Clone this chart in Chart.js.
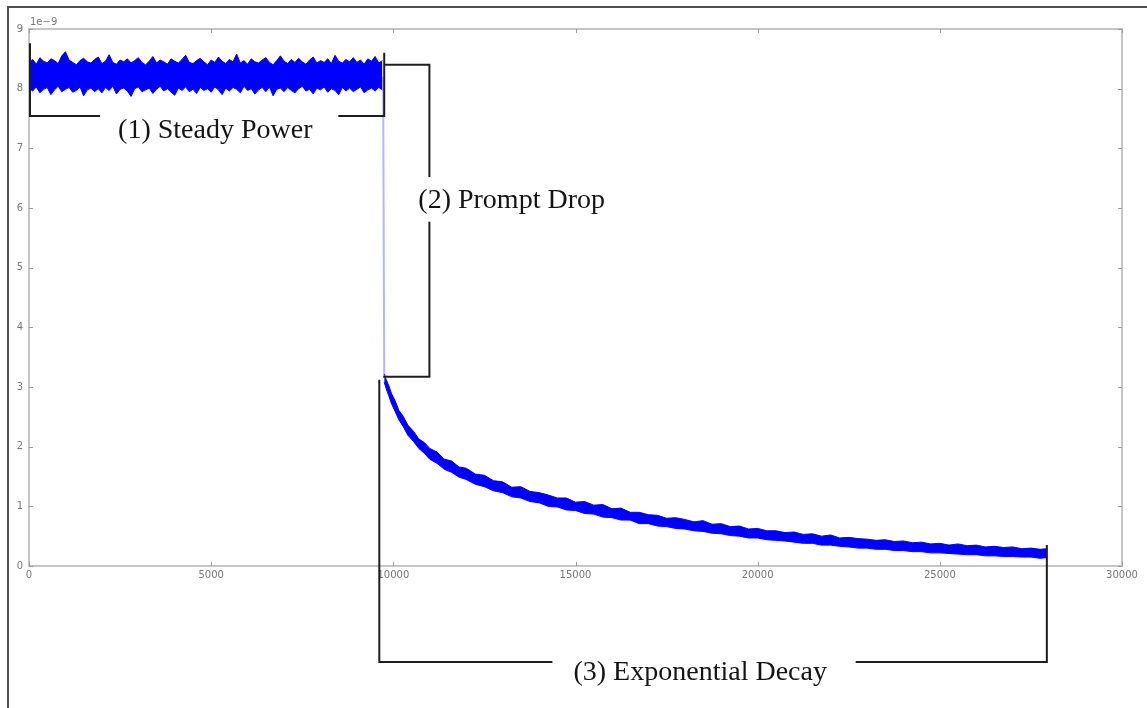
<!DOCTYPE html>
<html><head><meta charset="utf-8">
<script src="https://cdn.jsdelivr.net/npm/chart.js@4.4.0/dist/chart.umd.min.js"></script>
<style>html,body{margin:0;padding:0;background:#fff;overflow:hidden}#wrap{width:1147px;height:708px}</style>
</head><body><div id="wrap"><canvas id="c" width="1147" height="708"></canvas></div>
<script>
// ---- data (values in units of 1e-9) ----
const xTicks = [0, 5000, 10000, 15000, 20000, 25000, 30000];
const yTicks = [0, 1, 2, 3, 4, 5, 6, 7, 8, 9];
const offsetText = '1e\u22129';

const steadyX = [0,100,200,300,400,500,600,700,800,900,1000,1100,1200,1300,1400,1500,1600,1700,1800,1900,2000,2100,2200,2300,2400,2500,2600,2700,2800,2900,3000,3100,3200,3300,3400,3500,3600,3700,3800,3900,4000,4100,4200,4300,4400,4500,4600,4700,4800,4900,5000,5100,5200,5300,5400,5500,5600,5700,5800,5900,6000,6100,6200,6300,6400,6500,6600,6700,6800,6900,7000,7100,7200,7300,7400,7500,7600,7700,7800,7900,8000,8100,8200,8300,8400,8500,8600,8700,8800,8900,9000,9100,9200,9300,9400,9500,9600,9700];
const steadyUpper = [8.44,8.49,8.41,8.52,8.46,8.43,8.50,8.47,8.42,8.55,
  8.62,8.48,8.44,8.40,8.47,8.51,8.45,8.43,8.49,8.53,
  8.42,8.46,8.57,8.44,8.41,8.48,8.45,8.50,8.43,8.47,
  8.52,8.44,8.40,8.46,8.54,8.43,8.48,8.45,8.41,8.50,
  8.46,8.43,8.49,8.56,8.44,8.42,8.47,8.51,8.45,8.40,
  8.48,8.44,8.53,8.46,8.42,8.49,8.45,8.58,8.43,8.47,
  8.41,8.50,8.45,8.43,8.48,8.52,8.44,8.40,8.47,8.55,
  8.46,8.42,8.49,8.44,8.51,8.45,8.41,8.48,8.53,8.43,
  8.47,8.44,8.50,8.42,8.56,8.46,8.43,8.49,8.45,8.52,
  8.44,8.48,8.41,8.50,8.46,8.54,8.43,8.47];
const steadyLower = [8.01,7.96,8.03,7.93,7.99,8.02,7.90,7.98,8.04,7.95,
  7.99,8.02,7.94,7.97,8.03,7.88,7.98,8.01,7.95,8.00,
  7.93,8.02,7.97,8.04,7.91,7.99,8.01,7.96,7.87,8.00,
  8.03,7.95,7.98,8.01,7.92,7.99,8.04,7.96,8.00,7.94,
  7.89,8.01,7.97,8.03,7.95,7.99,7.92,8.02,7.97,8.00,
  7.94,8.03,7.98,7.90,8.01,7.96,8.02,7.99,7.93,8.04,
  7.97,8.00,7.91,7.98,8.02,7.95,8.03,7.88,7.99,8.01,
  7.95,8.02,7.97,7.93,8.00,8.04,7.96,7.99,7.91,8.01,
  7.98,8.03,7.94,8.00,7.97,7.90,8.02,7.96,8.01,7.95,
  7.99,8.03,7.93,7.98,8.01,7.96,8.02,7.98];

const dropX = [9720, 9750];
const dropY = [8.2, 3.15];

const decayX = [9750,9800,9870,9950,10050,10150,10270,10400,10550,10700,10850,11000,11200,11400,11600,11800,12000,12250,12500,12750,13000,13250,13500,13750,14000,14250,14500,14750,15000,15250,15500,15750,16000,16250,16500,16750,17000,17250,17500,17750,18000,18250,18500,18750,19000,19250,19500,19750,20000,20250,20500,20750,21000,21250,21500,21750,22000,22250,22500,22750,23000,23250,23500,23750,24000,24250,24500,24750,25000,25250,25500,25750,26000,26250,26500,26750,27000,27250,27500,27750,27950];
const decayUpper = [3.22,3.13,3.03,2.89,2.77,2.61,2.51,2.36,2.26,2.13,
  2.07,1.97,1.91,1.79,1.76,1.66,1.64,1.54,1.52,1.43,
  1.41,1.32,1.33,1.25,1.23,1.19,1.14,1.14,1.07,1.08,
  1.02,1.03,0.96,0.97,0.90,0.90,0.86,0.85,0.80,0.81,
  0.78,0.74,0.76,0.70,0.71,0.66,0.67,0.62,0.63,0.59,
  0.59,0.56,0.57,0.53,0.54,0.50,0.52,0.47,0.48,0.46,
  0.45,0.43,0.44,0.41,0.42,0.39,0.40,0.37,0.38,0.35,
  0.37,0.34,0.35,0.32,0.33,0.31,0.32,0.29,0.30,0.28,0.29];
const decayLower = [3.08,2.98,2.86,2.72,2.59,2.45,2.34,2.19,2.09,1.97,
  1.89,1.79,1.72,1.62,1.57,1.49,1.45,1.37,1.33,1.26,
  1.23,1.16,1.14,1.08,1.06,1.00,0.99,0.94,0.93,0.88,
  0.87,0.82,0.81,0.77,0.77,0.71,0.71,0.67,0.66,0.63,
  0.62,0.59,0.58,0.55,0.54,0.51,0.50,0.47,0.47,0.44,
  0.43,0.42,0.40,0.38,0.38,0.35,0.35,0.33,0.32,0.30,
  0.30,0.28,0.28,0.26,0.26,0.24,0.24,0.22,0.22,0.21,
  0.20,0.19,0.19,0.17,0.17,0.16,0.16,0.15,0.15,0.13,0.14];

// ---- annotations (data coordinates) ----
const phaseLabels = ['(1) Steady Power', '(2) Prompt Drop', '(3) Exponential Decay'];
const labelAnchors = [[2445, 7.29], [10686, 6.13], [14944, -1.79]];
const bracketPaths = [
  [[27, 8.76], [27, 7.54], [1950, 7.54]],
  [[8490, 7.54], [9750, 7.54], [9750, 8.60]],
  [[9750, 8.40], [10990, 8.40], [10990, 6.52]],
  [[10990, 5.77], [10990, 3.17], [9725, 3.17]],
  [[14367, -1.61], [9615, -1.61], [9615, 3.12]],
  [[22690, -1.61], [27937, -1.61], [27937, 0.35]]
];

const pts = (xs, ys) => xs.map((x, i) => ({x: x, y: ys[i]}));
const BLUE = '#0000ff';

const deco = {
  id: 'deco',
  beforeDraw(chart) {
    const ctx = chart.ctx;
    ctx.save();
    ctx.fillStyle = '#fff';
    ctx.fillRect(0, 0, chart.width, chart.height);
    ctx.strokeStyle = '#505050';
    ctx.lineWidth = 2;
    ctx.beginPath();
    ctx.moveTo(8, chart.height); ctx.lineTo(8, 7); ctx.lineTo(chart.width, 7);
    ctx.stroke();
    ctx.restore();
  },
  beforeDatasetsDraw(chart) {
    const ctx = chart.ctx, a = chart.chartArea;
    const xs = chart.scales.x, ys = chart.scales.y;
    ctx.save();
    ctx.strokeStyle = '#c6c6c6';
    ctx.lineWidth = 2;
    ctx.strokeRect(a.left, a.top, a.right - a.left, a.bottom - a.top);
    ctx.strokeStyle = '#9a9a9a';
    ctx.lineWidth = 1;
    ctx.beginPath();
    xTicks.forEach(v => {
      const p = Math.round(xs.getPixelForValue(v)) + 0.5;
      ctx.moveTo(p, a.bottom); ctx.lineTo(p, a.bottom - 4);
      ctx.moveTo(p, a.top); ctx.lineTo(p, a.top + 4);
    });
    yTicks.forEach(v => {
      const p = Math.round(ys.getPixelForValue(v)) + 0.5;
      ctx.moveTo(a.left, p); ctx.lineTo(a.left + 4, p);
      ctx.moveTo(a.right, p); ctx.lineTo(a.right - 4, p);
    });
    ctx.stroke();
    ctx.fillStyle = '#777';
    ctx.font = '10px "DejaVu Sans"';
    ctx.textAlign = 'left';
    ctx.textBaseline = 'alphabetic';
    ctx.fillText(offsetText, a.left + 1, a.top - 4);
    ctx.restore();
  },
  afterDatasetsDraw(chart) {
    const ctx = chart.ctx;
    const xs = chart.scales.x, ys = chart.scales.y;
    const P = (d) => [xs.getPixelForValue(d[0]), ys.getPixelForValue(d[1])];
    ctx.save();
    ctx.strokeStyle = '#1e1e1e';
    ctx.lineWidth = 2;
    ctx.lineJoin = 'miter';
    bracketPaths.forEach(path => {
      ctx.beginPath();
      path.forEach((d, i) => { const p = P(d); if (i === 0) ctx.moveTo(p[0], p[1]); else ctx.lineTo(p[0], p[1]); });
      ctx.stroke();
    });
    ctx.fillStyle = '#141414';
    ctx.font = '28px "Liberation Serif"';
    ctx.textAlign = 'left';
    ctx.textBaseline = 'middle';
    phaseLabels.forEach((t, i) => { const p = P(labelAnchors[i]); ctx.fillText(t, p[0], p[1]); });
    ctx.restore();
  }
};

new Chart(document.getElementById('c'), {
  type: 'line',
  data: {
    datasets: [
      {data: pts(steadyX, steadyUpper), borderColor: BLUE, borderWidth: 1, fill: false},
      {data: pts(steadyX, steadyLower), borderColor: BLUE, borderWidth: 1, fill: '-1', backgroundColor: BLUE},
      {data: pts(dropX, dropY), borderColor: 'rgba(90,90,255,0.45)', borderWidth: 2, fill: false},
      {data: pts(decayX, decayUpper), borderColor: BLUE, borderWidth: 1, fill: false},
      {data: pts(decayX, decayLower), borderColor: BLUE, borderWidth: 1, fill: '-1', backgroundColor: BLUE}
    ]
  },
  options: {
    responsive: false,
    devicePixelRatio: 1,
    animation: false,
    events: [],
    elements: {point: {radius: 0}, line: {tension: 0}},
    layout: {padding: {left: 0, top: 29, right: 25, bottom: 122}},
    plugins: {legend: {display: false}, tooltip: {enabled: false}},
    scales: {
      x: {
        type: 'linear', min: 0, max: 30000,
        afterBuildTicks: s => { s.ticks = xTicks.map(v => ({value: v})); },
        afterFit: s => { s.height = 20; },
        grid: {display: false, drawTicks: false},
        border: {display: false},
        ticks: {padding: 3, color: '#777', font: {family: 'DejaVu Sans', size: 10}, maxRotation: 0, callback: v => String(v)}
      },
      y: {
        type: 'linear', min: 0, max: 9,
        afterBuildTicks: s => { s.ticks = yTicks.map(v => ({value: v})); },
        afterFit: s => { s.width = 29; },
        grid: {display: false, drawTicks: false},
        border: {display: false},
        ticks: {padding: 6, color: '#777', font: {family: 'DejaVu Sans', size: 10}, callback: v => String(v)}
      }
    }
  },
  plugins: [deco]
});
</script>
</body></html>
